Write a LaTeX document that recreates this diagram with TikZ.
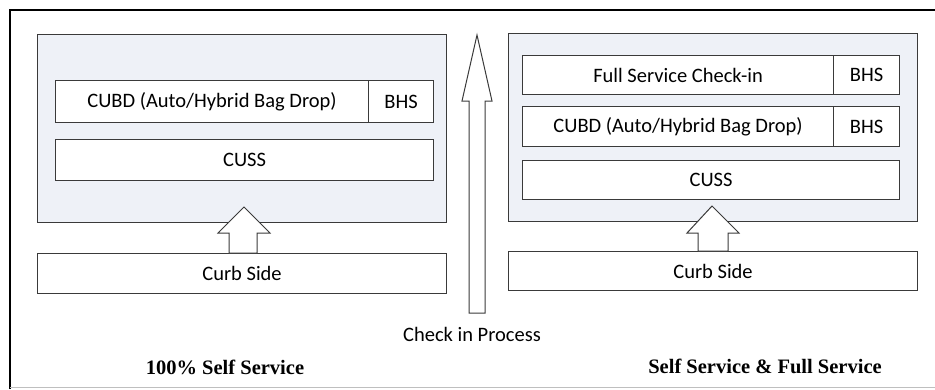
\documentclass[tikz,border=0pt]{standalone}
\usepackage{fontspec}
\setmainfont{Carlito}
\newfontfamily\labelserif{Liberation Serif}
\definecolor{linec}{HTML}{3A3A3A}
\definecolor{panelc}{HTML}{EEF1F7}
\begin{document}
\begin{tikzpicture}[x=1pt,y=-1pt,
  panel/.style={draw=linec, line width=1.1pt, fill=panelc, inner sep=0pt, anchor=north west},
  cell/.style={draw=linec, line width=1.1pt, fill=white, inner sep=0pt, anchor=north west,
    font=\fontsize{20.5}{24}\selectfont},
  blockarrow/.style={draw=linec, line width=1pt, fill=white, line join=miter},
  caption/.style={font=\fontsize{20.5}{24}\selectfont},
  sidelabel/.style={font=\labelserif\bfseries\fontsize{20.5}{24}\selectfont}]
\useasboundingbox (0,0) rectangle (935,389);

% frame
\draw[line width=1.6pt, black] (10,389) -- (10,10) -- (935,10);
\draw[line width=0.8pt, black!25] (10,387) -- (935,387);

% left column: self service only
\node[panel, minimum width=409pt, minimum height=188pt] (lpanel) at (37,34) {};
\node[cell, minimum width=313pt, minimum height=42pt] (lcubd) at (55,80) {CUBD (Auto/Hybrid Bag Drop)};
\node[cell, minimum width=65pt, minimum height=42pt] (lbhs) at (368,80) {BHS};
\node[cell, minimum width=378pt, minimum height=41pt] (lcuss) at (55,139) {CUSS};
\node[cell, minimum width=409pt, minimum height=40pt] (lcurb) at (37,253) {Curb Side};

% right column: self service and full service
\node[panel, minimum width=409pt, minimum height=188pt] (rpanel) at (508,33) {};
\node[cell, minimum width=311pt, minimum height=39pt] (rfull) at (522,55) {Full Service Check-in};
\node[cell, minimum width=66pt, minimum height=39pt] (rbhs1) at (833,55) {BHS};
\node[cell, minimum width=311pt, minimum height=40pt] (rcubd) at (522,106) {CUBD (Auto/Hybrid Bag Drop)};
\node[cell, minimum width=66pt, minimum height=40pt] (rbhs2) at (833,106) {BHS};
\node[cell, minimum width=377pt, minimum height=39pt] (rcuss) at (522,160) {CUSS};
\node[cell, minimum width=409pt, minimum height=39pt] (rcurb) at (508,251) {Curb Side};

% block arrows from curb side into each panel
\draw[blockarrow] (229,253) -- (229,233) -- (218,233) -- (244,207) -- (270,233)
  -- (257,233) -- (257,253) -- cycle;
\draw[blockarrow] (698,251) -- (698,233) -- (687,233) -- (712,206) -- (739,233)
  -- (728,233) -- (728,251) -- cycle;

% central check-in process arrow
\coordinate (ptip) at (477,35);
\draw[blockarrow] (469,313) -- (469,101) -- (462,101) -- (ptip) -- (492,101)
  -- (485,101) -- (485,313) -- cycle;
\node[caption] (process) at (472,334) {Check in Process};

% column captions
\node[sidelabel] (lcap) at (225,367) {100\% Self Service};
\node[sidelabel] (rcap) at (765,366) {Self Service \& Full Service};
\end{tikzpicture}
\end{document}
